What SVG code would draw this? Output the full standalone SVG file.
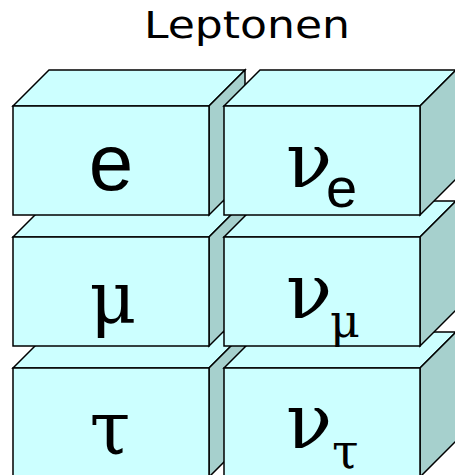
<svg xmlns="http://www.w3.org/2000/svg" xmlns:xlink="http://www.w3.org/1999/xlink" width="455" height="475" viewBox="0 0 455 475">
<style>
.front{fill:#CCFFFF;stroke:#000;stroke-width:1.5;stroke-linejoin:miter}
.top{fill:#CCFFFF;stroke:#000;stroke-width:1.5}
.side{fill:#A6D0CD;stroke:#000;stroke-width:1.5}
.sans{font-family:"Liberation Sans",Arial,sans-serif;fill:#000}
.serif{font-family:"DejaVu Serif","Liberation Serif",serif;fill:#000}
.title{font-family:"DejaVu Sans",Verdana,sans-serif;font-size:38px;fill:#000}
</style>
<defs>
<g id="box">
<polygon class="top" points="0,0 36,-36 232,-36 196,0"/>
<polygon class="side" points="196,0 232,-36 232,73 196,109"/>
<rect class="front" x="0" y="0" width="196" height="109"/>
</g>
</defs>
<text class="title" x="144" y="38" textLength="206" lengthAdjust="spacingAndGlyphs">Leptonen</text>
<g id="tau">
<use xlink:href="#box" x="13" y="368"/>
<text class="serif" x="110" y="454" font-size="74" text-anchor="middle">τ</text>
</g>
<g id="nu-tau">
<use xlink:href="#box" x="224" y="368"/>
<text class="serif" x="286" y="448" font-size="76">ν</text>
<text class="serif" x="332" y="468" font-size="48">τ</text>
</g>
<g id="mu">
<use xlink:href="#box" x="13" y="237"/>
<text class="serif" x="113" y="323" font-size="72" text-anchor="middle">μ</text>
</g>
<g id="nu-mu">
<use xlink:href="#box" x="224" y="237"/>
<text class="serif" x="286" y="318" font-size="76">ν</text>
<text class="serif" x="330" y="337" font-size="46">μ</text>
</g>
<g id="e">
<use xlink:href="#box" x="13" y="106"/>
<text class="sans" x="111" y="190" font-size="80" text-anchor="middle">e</text>
</g>
<g id="nu-e">
<use xlink:href="#box" x="224" y="106"/>
<text class="serif" x="286" y="187" font-size="76">ν</text>
<text class="sans" x="326" y="207" font-size="56">e</text>
</g>
<g id="connectors"/>
</svg>
